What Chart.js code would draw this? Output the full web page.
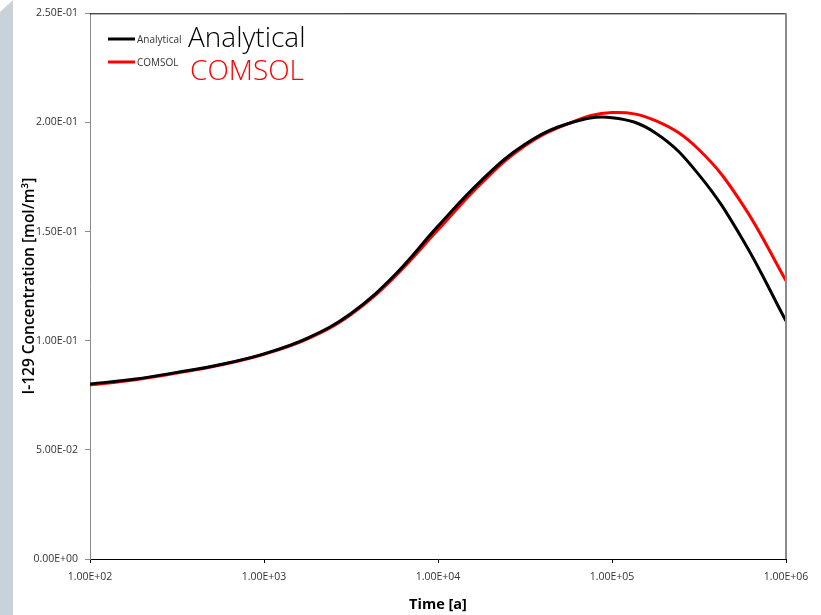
<!DOCTYPE html>
<html>
<head>
<meta charset="utf-8">
<script src="https://cdn.jsdelivr.net/npm/chart.js"></script>
<style>
html,body{margin:0;padding:0;background:#fff;}
#wrap{position:relative;width:821px;height:615px;}
</style>
</head>
<body>
<div id="wrap"><canvas id="c" width="821" height="615"></canvas></div>
<script>
// Data
const timeYears = [1e2, 1.778e2, 3.162e2, 5.623e2, 1e3, 1.778e3, 3.162e3, 5.623e3, 1e4, 1.778e4, 3.162e4, 5.623e4, 1e5, 1.778e5, 3.162e5, 5.623e5, 1e6];
const analytical = [0.0802, 0.0823, 0.0855, 0.0891, 0.0940, 0.1012, 0.1125, 0.1300, 0.1525, 0.1735, 0.1900, 0.1995, 0.2022, 0.1952, 0.1760, 0.1465, 0.1090];
const comsol     = [0.0797, 0.0820, 0.0852, 0.0889, 0.0938, 0.1008, 0.1120, 0.1292, 0.1508, 0.1722, 0.1893, 0.1995, 0.2045, 0.2008, 0.1875, 0.1625, 0.1275];
const seriesNames = ['Analytical', 'COMSOL'];
const xTickValues = [1e2, 1e3, 1e4, 1e5, 1e6];
const xTickLabels = ['1.00E+02', '1.00E+03', '1.00E+04', '1.00E+05', '1.00E+06'];
const yTickValues = [0, 0.05, 0.10, 0.15, 0.20, 0.25];
const yTickLabels = ['0.00E+00', '5.00E-02', '1.00E-01', '1.50E-01', '2.00E-01', '2.50E-01'];
const xTitle = 'Time [a]';
const yTitle = 'I-129 Concentration [mol/m\u00B3]';

const colors = ['#000000', '#ff0000'];
const FONT = '"Open Sans", Lato, sans-serif';

const framePlugin = {
  id: 'frame',
  beforeDraw(chart) {
    const ctx = chart.ctx;
    ctx.save();
    ctx.fillStyle = '#ffffff';
    ctx.fillRect(0, 0, chart.width, chart.height);
    ctx.fillStyle = '#c8d2d8';
    ctx.beginPath();
    ctx.moveTo(0, 12);
    ctx.lineTo(13, 0);
    ctx.lineTo(13, chart.height);
    ctx.lineTo(0, chart.height);
    ctx.closePath();
    ctx.fill();
    ctx.restore();
  },
  afterDatasetsDraw(chart) {
    const ctx = chart.ctx;
    const a = chart.chartArea;
    ctx.save();
    ctx.strokeStyle = '#000000';
    ctx.lineWidth = 1;
    ctx.beginPath();
    ctx.moveTo(a.left, a.top + 0.5);
    ctx.lineTo(a.right, a.top + 0.5);
    ctx.stroke();
    ctx.strokeStyle = '#8a8a8a';
    ctx.lineWidth = 2;
    ctx.beginPath();
    ctx.moveTo(a.right, a.top);
    ctx.lineTo(a.right, a.bottom);
    ctx.stroke();
    // legend
    const rows = [39, 62];
    const bigBase = [47, 80];
    const bigX = [188, 190];
    chart.data.datasets.forEach((ds, i) => {
      const y = rows[i];
      ctx.strokeStyle = ds.borderColor;
      ctx.lineWidth = 3;
      ctx.beginPath();
      ctx.moveTo(108, y);
      ctx.lineTo(135, y);
      ctx.stroke();
      ctx.fillStyle = '#333333';
      ctx.font = '10px ' + FONT;
      ctx.textBaseline = 'middle';
      ctx.textAlign = 'left';
      ctx.fillText(ds.label, 137, y + 1);
      ctx.fillStyle = ds.borderColor;
      ctx.font = '300 28px ' + FONT;
      ctx.textBaseline = 'alphabetic';
      ctx.fillText(ds.label, bigX[i], bigBase[i]);
    });
    ctx.restore();
  }
};

new Chart(document.getElementById('c'), {
  type: 'line',
  data: {
    datasets: [
      { label: seriesNames[0], data: timeYears.map((t, i) => ({ x: t, y: analytical[i] })), borderColor: colors[0], backgroundColor: colors[0], borderWidth: 3, pointRadius: 0, tension: 0.4, fill: false },
      { label: seriesNames[1], data: timeYears.map((t, i) => ({ x: t, y: comsol[i] })), borderColor: colors[1], backgroundColor: colors[1], borderWidth: 3, pointRadius: 0, tension: 0.4, fill: false }
    ]
  },
  options: {
    responsive: false,
    animation: false,
    devicePixelRatio: 1,
    layout: { padding: { top: 12, right: 35, left: 20, bottom: 0 } },
    plugins: { legend: { display: false }, tooltip: { enabled: false } },
    scales: {
      x: {
        type: 'logarithmic',
        min: 1e2, max: 1e6,
        afterBuildTicks(scale) { scale.ticks = xTickValues.map(v => ({ value: v })); },
        afterFit(scale) { scale.height = 56; },
        border: { display: true, color: '#000000', width: 1 },
        grid: { drawOnChartArea: false, drawTicks: true, tickLength: 4, color: '#000000' },
        ticks: {
          autoSkip: false, maxRotation: 0, padding: 8,
          color: '#333333', font: { family: FONT, size: 10.5 },
          callback(v) { const k = xTickValues.indexOf(v); return k >= 0 ? xTickLabels[k] : ''; }
        },
        title: { display: true, text: xTitle, color: '#000000', font: { family: FONT, size: 14.5, weight: 'bold' }, padding: { top: 2, bottom: 1 } }
      },
      y: {
        min: 0, max: 0.25,
        afterBuildTicks(scale) { scale.ticks = yTickValues.map(v => ({ value: v })); },
        afterFit(scale) { scale.width = 70; },
        border: { display: true, color: '#8a8a8a', width: 1 },
        grid: { drawOnChartArea: false, drawTicks: true, tickLength: 5, color: '#8a8a8a' },
        ticks: {
          padding: 7,
          color: '#333333', font: { family: FONT, size: 10.5 },
          callback(v) { const k = yTickValues.findIndex(t => Math.abs(t - v) < 1e-9); return k >= 0 ? yTickLabels[k] : ''; }
        },
        title: { display: true, text: yTitle, color: '#000000', font: { family: FONT, size: 15.5, weight: '600' }, padding: { top: 0, bottom: 0 } }
      }
    }
  },
  plugins: [framePlugin]
});
</script>
</body>
</html>
